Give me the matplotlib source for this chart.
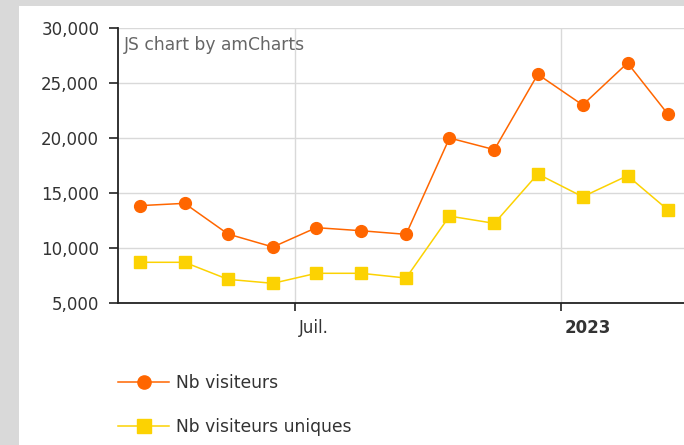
import numpy as np
import pandas as pd
import matplotlib
matplotlib.use('Agg')
import matplotlib.pyplot as plt
import matplotlib.dates as mdates
from matplotlib.patches import Rectangle
from matplotlib.lines import Line2D

# Données mensuelles (mars 2022 -> mars 2023)
mois = pd.date_range('2022-03-01', periods=13, freq='MS') + pd.Timedelta(days=15)
visiteurs = [13850, 14060, 11270, 10090, 11850, 11570, 11240,
             20000, 18940, 25790, 23000, 26820, 22150]
visiteurs_uniques = [8700, 8700, 7150, 6790, 7700, 7700, 7270,
                     12900, 12240, 16730, 14660, 16570, 13450]
y_ticks = [5000, 10000, 15000, 20000, 25000, 30000]
x_ticks = [pd.Timestamp('2022-07-01'), pd.Timestamp('2023-01-01')]
x_labels = ['Juil.', '2023']

orange = '#FF6600'
jaune = '#FCD202'
texte = '#333333'
fs = 12

plt.rcParams['font.family'] = 'DejaVu Sans'

fig = plt.figure(figsize=(6.84, 4.45), dpi=100)
fig.patch.set_facecolor('#d9d9d9')
# panneau blanc
fig.patches.append(Rectangle((19 / 684, 0), 1 - 19 / 684, 1 - 6 / 445,
                             transform=fig.transFigure, facecolor='white',
                             edgecolor='none', zorder=-5))

ax = fig.add_axes([118 / 684, 1 - 303 / 445, 1 - 118 / 684, (303 - 28) / 445])
ax.set_facecolor('none')

ax.plot(mois, visiteurs, color=orange, lw=1.1, marker='o', ms=8.5,
        markeredgecolor=orange, zorder=3, clip_on=False)
ax.plot(mois, visiteurs_uniques, color=jaune, lw=1.1, marker='s', ms=8.5,
        markeredgecolor=jaune, zorder=3, clip_on=False)

ax.set_ylim(5000, 30000)
ax.set_xlim(pd.Timestamp('2022-03-01'), pd.Timestamp('2023-03-27'))
ax.set_yticks(y_ticks)
ax.set_yticklabels(['{:,}'.format(v) for v in y_ticks])
ax.set_xticks(x_ticks)
ax.set_xticklabels([])
for d, lab in zip(x_ticks, x_labels):
    ax.annotate(lab, xy=(mdates.date2num(d), 0), xycoords=('data', 'axes fraction'),
                xytext=(4, -25), textcoords='offset pixels', ha='left', va='center',
                fontsize=fs, color=texte,
                fontweight='bold' if lab == '2023' else 'normal')

ax.grid(True, color='#d9d9d9', lw=1)
ax.set_axisbelow(True)
for s in ['top', 'right']:
    ax.spines[s].set_visible(False)
for s in ['left', 'bottom']:
    ax.spines[s].set_color('#222222')
    ax.spines[s].set_linewidth(1.3)
ax.tick_params(axis='y', length=6.5, width=1.2, color='#222222', labelsize=fs,
               labelcolor=texte, pad=7)
ax.tick_params(axis='x', length=5.8, width=1.2, color='#222222')

ax.text(6 / 566, 1 - 17 / 275, 'JS chart by amCharts', transform=ax.transAxes,
        fontsize=12.3, color='#666666', ha='left', va='center')

handles = [
    Line2D([], [], color=orange, lw=1.1, marker='o', ms=9.5, markeredgecolor=orange),
    Line2D([], [], color=jaune, lw=1.1, marker='s', ms=9.5, markeredgecolor=jaune),
]
fig.legend(handles, ['Nb visiteurs', 'Nb visiteurs uniques'],
           loc='upper left', bbox_to_anchor=(103 / 684, 1 - 359 / 445),
           frameon=False, fontsize=12.3, labelcolor=texte,
           handlelength=2.95, handletextpad=0.45, labelspacing=1.5)

fig.savefig('out.png', dpi=100, facecolor=fig.get_facecolor())
